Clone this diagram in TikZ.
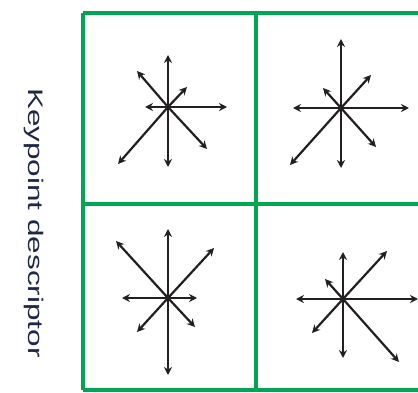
\documentclass[tikz,border=0pt]{standalone}
\usepackage{fontspec}
\setmainfont{Liberation Sans}
\usetikzlibrary{arrows.meta}
\definecolor{gridgreen}{RGB}{0,166,81}
\definecolor{labelblue}{RGB}{30,40,70}
\definecolor{arrowgray}{RGB}{35,31,32}

\begin{document}
\begin{tikzpicture}[x=1pt, y=-1pt,
    cellline/.style={line width=4.5pt, gridgreen},
    descarrow/.style={line width=2.2pt, arrowgray, -{Stealth[length=8pt, width=8pt]}}]
    \useasboundingbox (0,0) rectangle (418,393);
    \clip (0,0) rectangle (418,393);

    % Grid of cells
    \draw[cellline] (83,13) -- (430,13);
    \draw[cellline] (83,204) -- (430,204);
    \draw[cellline] (83,390) -- (430,390);
    \draw[cellline] (83,13) -- (83,390);
    \draw[cellline] (256,13) -- (256,390);

    % Cell centres
    \coordinate (c1) at (168,107);
    \coordinate (c2) at (341,108);
    \coordinate (c3) at (168,298);
    \coordinate (c4) at (343,299);

    % Descriptor arrows
    \foreach \d in {(0,-52), (0,60), (59,0), (-23,0), (-31,-36), (19,-20), (39,42), (-50,57)}
        \draw[descarrow] (c1) -- ++\d;
    \foreach \d in {(0,-69), (0,60), (68,0), (-48,0), (30,-33), (-18,-20), (35,39), (-51,57)}
        \draw[descarrow] (c2) -- ++\d;
    \foreach \d in {(0,-69), (0,77), (29,0), (-46,0), (-52,-57), (46,-50), (27,29), (-31,34)}
        \draw[descarrow] (c3) -- ++\d;
    \foreach \d in {(0,-47), (0,59), (75,0), (-47,0), (44,-48), (-18,-20), (56,63), (-31,34)}
        \draw[descarrow] (c4) -- ++\d;
    \foreach \c in {c1,c2,c3,c4}
        \fill[arrowgray] (\c) circle (2.2);

    % Side label
    \node[rotate=-90, inner sep=0, labelblue] (label) at (33.5,223)
        {\scalebox{1.5}[1]{\fontsize{21}{21}\selectfont Keypoint descriptor}};
\end{tikzpicture}
\end{document}
